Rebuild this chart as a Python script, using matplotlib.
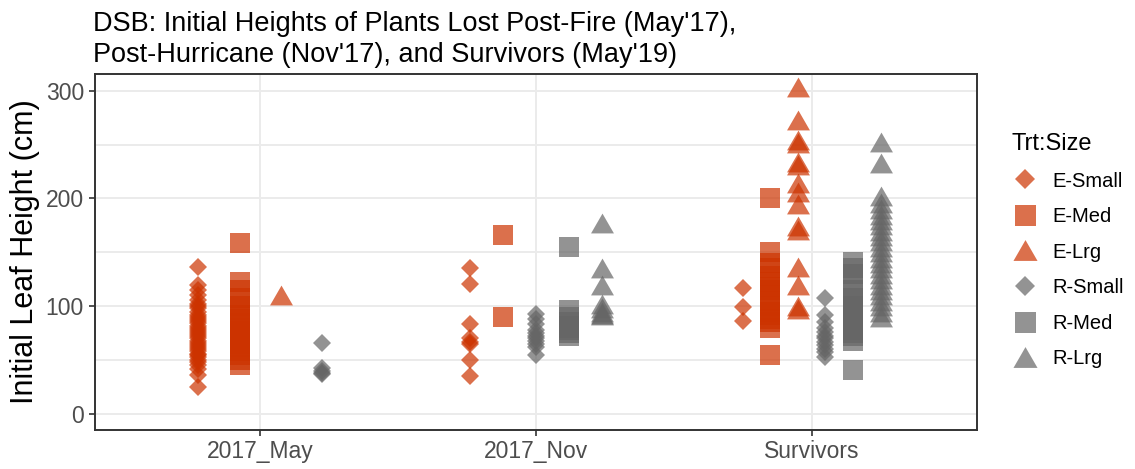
import numpy as np
import matplotlib
matplotlib.use("Agg")
import matplotlib.pyplot as plt
from matplotlib.lines import Line2D

plt.rcParams['font.family'] = ['Liberation Sans', 'DejaVu Sans']

# categories on the x axis
periods = ["2017_May", "2017_Nov", "Survivors"]
groups = ["E-Small", "E-Med", "E-Lrg", "R-Small", "R-Med", "R-Lrg"]

# initial leaf heights (cm) per period and group
may_e_small = [136, 120, 115, 110, 106, 102, 100, 98, 95, 92, 90, 88, 86, 84, 82, 80, 78,
               76, 74, 72, 70, 68, 66, 64, 62, 60, 58, 56, 55, 53, 50, 48, 45, 42, 36, 25]
may_e_med = [159, 122, 115, 108, 100, 96, 92, 88, 84, 80, 77, 74, 71, 68, 65, 62, 58, 55, 50, 45]
may_e_lrg = [110]
may_r_small = [66, 43, 40, 38, 37]

nov_e_small = [135, 121, 83, 70, 67, 65, 50, 35]
nov_e_med = [166, 90]
nov_r_small = [93, 88, 83, 78, 75, 72, 70, 68, 65, 62, 55]
nov_r_med = [155, 96, 90, 85, 82, 80, 78, 75, 72]
nov_r_lrg = [177, 135, 120, 102, 98, 95, 93, 92]

surv_e_small = [117, 99, 86]
surv_e_med = [200, 150, 140, 135, 128, 122, 118, 115, 110, 105, 100, 95, 92, 88, 85, 80, 55]
surv_e_lrg = [303, 273, 254, 251, 234, 231, 214, 206, 195, 174, 171, 136, 120, 100, 97]
surv_r_small = [108, 92, 85, 80, 76, 72, 70, 67, 64, 60, 57, 53]
surv_r_med = [141, 135, 130, 122, 115, 108, 104, 100, 96, 92, 88, 85, 82, 78, 75, 72, 68, 41]
surv_r_lrg = [252, 233, 202, 196, 190, 185, 180, 175, 170, 165, 160, 155, 150, 145, 140,
              135, 130, 125, 120, 115, 110, 105, 100, 95, 90]

data = {
    "2017_May": {"E-Small": may_e_small, "E-Med": may_e_med, "E-Lrg": may_e_lrg,
                 "R-Small": may_r_small},
    "2017_Nov": {"E-Small": nov_e_small, "E-Med": nov_e_med, "R-Small": nov_r_small,
                 "R-Med": nov_r_med, "R-Lrg": nov_r_lrg},
    "Survivors": {"E-Small": surv_e_small, "E-Med": surv_e_med, "E-Lrg": surv_e_lrg,
                  "R-Small": surv_r_small, "R-Med": surv_r_med, "R-Lrg": surv_r_lrg},
}

colors = {"E": "#CC3300", "R": "#666666"}
# equilateral-ish triangle like ggplot's shape 17
tri = [(-1, -0.866), (1, -0.866), (0, 0.866), (-1, -0.866)]
markers = {"Small": ("D", 9.4), "Med": ("s", 14.4), "Lrg": (tri, 16.5)}

fig = plt.figure(figsize=(11.35, 4.69), dpi=100)
ax = fig.add_axes([95 / 1135, 1 - 430 / 469, 882 / 1135, 356 / 469])

dodge = 0.6
for i, p in enumerate(periods):
    present = [g for g in groups if g in data[p]]
    n = len(present)
    for j, g in enumerate(present):
        x = i + 1 + (j - (n - 1) / 2) * dodge / n
        trt, size = g.split("-")
        m, ms = markers[size]
        vals = data[p][g]
        ax.plot([x] * len(vals), vals, linestyle="none", marker=m, markersize=ms,
                color=colors[trt], alpha=0.7, markeredgewidth=0, zorder=3)

ax.set_xlim(0.4, 3.6)
ax.set_ylim(-15, 315.5)
ax.set_xticks([1, 2, 3])
ax.set_xticklabels(periods)
ax.set_yticks([0, 100, 200, 300])
ax.set_yticks([50, 150, 250], minor=True)
ax.grid(True, which="both", color="#EBEBEB", linewidth=1.4, zorder=0)
ax.set_axisbelow(True)
ax.tick_params(axis="both", which="major", labelsize=16.5, labelcolor="#4D4D4D",
               color="#333333", length=4, width=1.2)
ax.tick_params(axis="x", which="major", pad=3)
ax.tick_params(axis="y", which="major", pad=4)
ax.tick_params(axis="y", which="minor", length=0)
for s in ax.spines.values():
    s.set_color("#333333")
    s.set_linewidth(1.4)

ax.set_ylabel("Initial Leaf Height (cm)", fontsize=22, color="black", labelpad=4)
fig.text(93 / 1135, 1 - 31 / 469, "DSB: Initial Heights of Plants Lost Post-Fire (May'17),",
         fontsize=19.5, ha="left", va="baseline")
fig.text(93 / 1135, 1 - 62 / 469, "Post-Hurricane (Nov'17), and Survivors (May'19)",
         fontsize=19.5, ha="left", va="baseline")

handles = []
for g in groups:
    trt, size = g.split("-")
    m, ms = markers[size]
    handles.append(Line2D([], [], linestyle="none", marker=m, markersize=ms * 1.05,
                          color=colors[trt], alpha=0.7, markeredgewidth=0))
leg = fig.legend(handles, groups, title="Trt:Size", loc="upper left",
                 bbox_to_anchor=(1011 / 1135, 1 - 133 / 469), frameon=False,
                 fontsize=14.5, title_fontsize=17, labelspacing=0.82,
                 handlelength=1.4, handletextpad=0.65, borderpad=0, borderaxespad=0)
leg._legend_box.align = "left"

fig.savefig("out.png", dpi=100)
